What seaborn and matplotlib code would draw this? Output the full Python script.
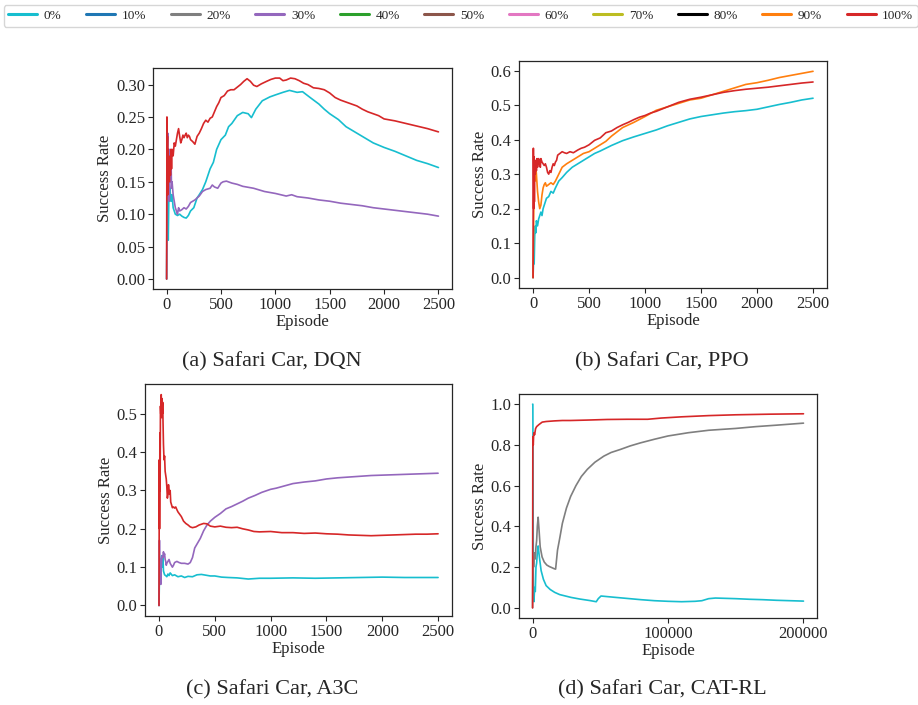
import pandas as pd
import matplotlib.pyplot as plt
import seaborn as sns
from matplotlib.lines import Line2D
from matplotlib.ticker import FixedLocator, MultipleLocator, FormatStrFormatter, ScalarFormatter

# Legend levels and colours
levels = ['0%', '10%', '20%', '30%', '40%', '50%', '60%', '70%', '80%', '90%', '100%']
level_colors = ['#17becf', '#1f77b4', '#7f7f7f', '#9467bd', '#2ca02c', '#8c564b',
                '#e377c2', '#bcbd22', 'black', '#ff7f0e', '#d62728']

# (a) DQN
dqn_0_ep = [0, 5, 10, 15, 20, 25, 30, 40, 50, 60, 70, 80, 100, 120, 140, 160, 180, 200, 220, 250,
            280, 300, 330, 360, 400, 430, 460, 500, 540, 570, 600, 650, 700, 750, 780, 820, 880, 950, 1000, 1070,
            1130, 1200, 1250, 1320, 1400, 1450, 1500, 1580, 1650, 1720, 1800, 1900, 2000, 2100, 2200, 2300, 2400, 2500]
dqn_0_sr = [0.0, 0.14, 0.11, 0.06, 0.12, 0.13, 0.14, 0.12, 0.13, 0.11, 0.105, 0.10, 0.098, 0.10, 0.097, 0.095, 0.094, 0.098, 0.105, 0.11,
            0.125, 0.13, 0.138, 0.15, 0.17, 0.18, 0.20, 0.215, 0.222, 0.235, 0.24, 0.252, 0.257, 0.255, 0.249, 0.262, 0.275, 0.281, 0.284, 0.288,
            0.291, 0.288, 0.289, 0.28, 0.27, 0.262, 0.255, 0.246, 0.235, 0.228, 0.22, 0.21, 0.203, 0.197, 0.19, 0.183, 0.178, 0.172]
dqn_30_ep = [0, 5, 10, 15, 20, 25, 30, 35, 40, 45, 50, 60, 70, 80, 90, 100, 110, 120, 140, 160,
             180, 200, 220, 240, 260, 280, 300, 330, 360, 400, 420, 440, 470, 500, 520, 550, 600, 650, 700, 800,
             900, 1000, 1100, 1150, 1200, 1300, 1400, 1500, 1600, 1700, 1800, 1900, 2000, 2100, 2200, 2300, 2400, 2500]
dqn_30_sr = [0.0, 0.2, 0.225, 0.13, 0.17, 0.12, 0.2, 0.15, 0.19, 0.14, 0.15, 0.13, 0.12, 0.11, 0.105, 0.1, 0.11, 0.105, 0.107, 0.11,
             0.108, 0.112, 0.118, 0.12, 0.122, 0.125, 0.128, 0.135, 0.138, 0.14, 0.145, 0.142, 0.14, 0.148, 0.15, 0.151, 0.148, 0.146, 0.143, 0.14,
             0.135, 0.132, 0.128, 0.13, 0.127, 0.125, 0.122, 0.12, 0.117, 0.115, 0.113, 0.11, 0.108, 0.106, 0.104, 0.102, 0.1, 0.097]
dqn_100_ep = [0, 3, 5, 8, 10, 13, 16, 20, 25, 30, 35, 40, 45, 50, 60, 70, 80, 90, 100, 110,
              120, 130, 140, 150, 160, 170, 180, 190, 200, 210, 220, 240, 260, 280, 300, 320, 340, 360, 380, 400,
              420, 440, 460, 480, 500, 530, 560, 590, 620, 650, 680, 710, 740, 770, 800, 830, 870, 920, 960, 1000,
              1040, 1070, 1100, 1140, 1180, 1220, 1260, 1300, 1350, 1400, 1450, 1500, 1550, 1600, 1650, 1700, 1750, 1800, 1850, 1900,
              1950, 2000, 2100, 2200, 2300, 2400, 2500]
dqn_100_sr = [0.0, 0.25, 0.15, 0.22, 0.13, 0.2, 0.16, 0.19, 0.15, 0.18, 0.16, 0.2, 0.17, 0.2, 0.19, 0.21, 0.205, 0.215, 0.225, 0.232,
              0.22, 0.21, 0.215, 0.222, 0.218, 0.222, 0.225, 0.218, 0.222, 0.22, 0.215, 0.212, 0.208, 0.22, 0.225, 0.232, 0.24, 0.245, 0.242, 0.248,
              0.25, 0.258, 0.266, 0.272, 0.28, 0.283, 0.29, 0.292, 0.292, 0.296, 0.3, 0.305, 0.309, 0.305, 0.299, 0.297, 0.301, 0.305, 0.308, 0.31,
              0.31, 0.306, 0.307, 0.31, 0.309, 0.306, 0.302, 0.3, 0.295, 0.294, 0.292, 0.287, 0.28, 0.276, 0.273, 0.27, 0.267, 0.262, 0.258, 0.255,
              0.252, 0.247, 0.244, 0.24, 0.236, 0.232, 0.227]

# (b) PPO
ppo_0_ep = [0, 5, 10, 15, 20, 25, 30, 40, 50, 60, 70, 80, 90, 100, 120, 140, 160, 180, 200, 230,
            260, 300, 350, 400, 450, 500, 550, 600, 700, 800, 900, 1000, 1100, 1200, 1300, 1400, 1500, 1600, 1700, 1800,
            1900, 2000, 2100, 2200, 2300, 2400, 2500]
ppo_0_sr = [0.0, 0.05, 0.04, 0.12, 0.15, 0.13, 0.165, 0.15, 0.17, 0.18, 0.19, 0.18, 0.2, 0.21, 0.23, 0.235, 0.25, 0.245, 0.26, 0.28,
            0.29, 0.305, 0.32, 0.33, 0.34, 0.35, 0.36, 0.367, 0.383, 0.397, 0.408, 0.418, 0.428, 0.44, 0.45, 0.46, 0.467, 0.472, 0.477, 0.481,
            0.484, 0.488, 0.495, 0.502, 0.508, 0.515, 0.52]
ppo_90_ep = [0, 5, 10, 15, 20, 25, 30, 40, 50, 60, 70, 80, 90, 100, 110, 120, 140, 160, 180, 200,
             230, 260, 300, 350, 400, 450, 500, 550, 600, 650, 700, 800, 900, 1000, 1100, 1200, 1300, 1400, 1500, 1600,
             1700, 1800, 1900, 2000, 2100, 2200, 2300, 2400, 2500]
ppo_90_sr = [0.0, 0.15, 0.3, 0.34, 0.28, 0.32, 0.3, 0.25, 0.22, 0.2, 0.21, 0.24, 0.26, 0.27, 0.275, 0.265, 0.27, 0.275, 0.27, 0.28,
             0.3, 0.32, 0.33, 0.34, 0.35, 0.36, 0.365, 0.375, 0.385, 0.395, 0.41, 0.435, 0.45, 0.467, 0.485, 0.495, 0.505, 0.515, 0.52, 0.53,
             0.54, 0.55, 0.56, 0.565, 0.572, 0.58, 0.586, 0.592, 0.598]
ppo_100_ep = [0, 3, 6, 9, 12, 15, 20, 25, 30, 35, 40, 45, 50, 55, 60, 65, 70, 80, 90, 100,
              110, 120, 130, 140, 150, 160, 170, 180, 190, 200, 210, 220, 240, 260, 280, 300, 330, 360, 400, 430,
              460, 500, 550, 600, 650, 700, 750, 800, 850, 900, 950, 1000, 1050, 1100, 1200, 1300, 1400, 1500, 1600, 1700,
              1800, 1900, 2000, 2100, 2200, 2300, 2400, 2500]
ppo_100_sr = [0.0, 0.375, 0.2, 0.35, 0.22, 0.33, 0.3, 0.34, 0.31, 0.345, 0.32, 0.33, 0.345, 0.33, 0.34, 0.32, 0.345, 0.335, 0.33, 0.325,
              0.33, 0.32, 0.305, 0.3, 0.31, 0.305, 0.32, 0.33, 0.325, 0.335, 0.34, 0.355, 0.36, 0.365, 0.362, 0.36, 0.365, 0.362, 0.37, 0.375,
              0.378, 0.385, 0.398, 0.405, 0.42, 0.425, 0.435, 0.443, 0.45, 0.458, 0.465, 0.47, 0.477, 0.482, 0.495, 0.508, 0.517, 0.523, 0.53, 0.537,
              0.542, 0.546, 0.549, 0.552, 0.556, 0.56, 0.564, 0.567]

# (c) A3C
a3c_0_ep = [0, 5, 10, 15, 20, 25, 30, 35, 40, 45, 50, 60, 70, 80, 90, 100, 120, 140, 170, 200,
            230, 260, 300, 340, 380, 420, 460, 500, 560, 620, 700, 800, 900, 1000, 1200, 1400, 1600, 1800, 2000, 2200,
            2400, 2500]
a3c_0_sr = [0.0, 0.09, 0.12, 0.1, 0.125, 0.13, 0.1, 0.13, 0.09, 0.085, 0.08, 0.078, 0.075, 0.082, 0.078, 0.085, 0.078, 0.08, 0.075, 0.077,
            0.073, 0.076, 0.075, 0.08, 0.081, 0.079, 0.077, 0.077, 0.074, 0.073, 0.072, 0.069, 0.071, 0.071, 0.072, 0.071, 0.072, 0.073, 0.074, 0.073,
            0.073, 0.073]
a3c_30_ep = [0, 4, 8, 12, 16, 20, 25, 30, 35, 40, 45, 50, 55, 60, 65, 70, 80, 90, 100, 110,
             120, 130, 140, 160, 180, 200, 230, 260, 280, 300, 320, 340, 370, 400, 430, 460, 500, 550, 600, 650,
             700, 750, 800, 860, 920, 1000, 1050, 1100, 1200, 1300, 1400, 1500, 1600, 1700, 1800, 1900, 2000, 2100, 2200, 2300,
             2400, 2500]
a3c_30_sr = [0.0, 0.17, 0.06, 0.12, 0.055, 0.1, 0.12, 0.13, 0.125, 0.14, 0.13, 0.135, 0.12, 0.115, 0.105, 0.11, 0.115, 0.12, 0.11, 0.105,
             0.1, 0.105, 0.112, 0.115, 0.112, 0.11, 0.11, 0.108, 0.112, 0.125, 0.15, 0.16, 0.175, 0.195, 0.21, 0.22, 0.23, 0.24, 0.252, 0.258,
             0.265, 0.272, 0.28, 0.287, 0.295, 0.303, 0.306, 0.31, 0.318, 0.322, 0.325, 0.33, 0.333, 0.335, 0.337, 0.339, 0.34, 0.341, 0.342, 0.343,
             0.344, 0.345]
a3c_100_ep = [0, 3, 5, 8, 10, 13, 16, 20, 23, 26, 30, 33, 36, 40, 45, 50, 55, 60, 65, 70,
              75, 80, 85, 90, 95, 100, 105, 110, 120, 130, 140, 150, 160, 170, 180, 200, 220, 240, 260, 280,
              300, 330, 360, 400, 430, 460, 500, 550, 600, 650, 700, 750, 800, 850, 900, 1000, 1100, 1200, 1300, 1400,
              1500, 1600, 1700, 1800, 1900, 2000, 2100, 2200, 2300, 2400, 2500]
a3c_100_sr = [0.0, 0.38, 0.2, 0.45, 0.3, 0.52, 0.5, 0.55, 0.49, 0.54, 0.5, 0.53, 0.48, 0.42, 0.38, 0.39, 0.35, 0.34, 0.33, 0.31,
              0.28, 0.29, 0.315, 0.3, 0.29, 0.3, 0.27, 0.265, 0.255, 0.257, 0.254, 0.257, 0.25, 0.244, 0.24, 0.232, 0.22, 0.214, 0.21, 0.205,
              0.203, 0.205, 0.21, 0.214, 0.213, 0.207, 0.205, 0.207, 0.204, 0.203, 0.204, 0.2, 0.197, 0.193, 0.192, 0.193, 0.19, 0.19, 0.188, 0.189,
              0.187, 0.186, 0.184, 0.183, 0.182, 0.183, 0.184, 0.185, 0.186, 0.186, 0.187]

# (d) CAT-RL
cat_0_ep = [0, 200, 600, 1000, 1500, 2000, 2500, 3000, 3500, 4100, 5000, 6300, 8000, 10000, 13000, 16300, 20000, 28500, 35000, 42000,
            47000, 48500, 50500, 60000, 70000, 80000, 90000, 100000, 110000, 115000, 120000, 125000, 130000, 135000, 140000, 150000, 160000, 170000, 180000, 190000,
            200000]
cat_0_sr = [1.0, 1.0, 0.05, 0.03, 0.1, 0.08, 0.2, 0.22, 0.27, 0.304, 0.25, 0.183, 0.14, 0.109, 0.09, 0.076, 0.065, 0.051, 0.043, 0.036,
            0.03, 0.045, 0.058, 0.052, 0.046, 0.04, 0.035, 0.032, 0.03, 0.031, 0.032, 0.035, 0.045, 0.048, 0.047, 0.045, 0.042, 0.04, 0.037, 0.035,
            0.033]
cat_20_ep = [0, 300, 700, 1000, 1500, 2000, 2500, 3000, 3500, 4100, 4800, 5600, 7000, 8600, 10500, 12300, 14000, 16000, 17000, 18400,
             20000, 22000, 25000, 28100, 32000, 36000, 40400, 46000, 52600, 58000, 64900, 72000, 79600, 90000, 100000, 115000, 130000, 150000, 165000, 180000,
             200000]
cat_20_sr = [0.0, 0.25, 0.2, 0.22, 0.27, 0.24, 0.3, 0.33, 0.4, 0.445, 0.38, 0.3, 0.25, 0.225, 0.21, 0.203, 0.198, 0.192, 0.19, 0.283,
             0.34, 0.415, 0.49, 0.547, 0.6, 0.645, 0.68, 0.715, 0.745, 0.763, 0.778, 0.795, 0.81, 0.828, 0.844, 0.86, 0.872, 0.881, 0.89, 0.897,
             0.907]
cat_100_ep = [0, 200, 500, 800, 1000, 1500, 2200, 3000, 4700, 7100, 10000, 16000, 22000, 28000, 40000, 55000, 70000, 85000, 95000, 110000,
              130000, 150000, 175000, 200000]
cat_100_sr = [0.0, 0.84, 0.8, 0.85, 0.86, 0.85, 0.88, 0.89, 0.9, 0.912, 0.915, 0.918, 0.92, 0.92, 0.922, 0.925, 0.926, 0.926, 0.932, 0.938,
              0.944, 0.948, 0.951, 0.953]

sns.set_style("ticks")
plt.rcParams['font.family'] = ['Liberation Serif', 'DejaVu Serif']

fig = plt.figure(figsize=(9.18, 7.05), dpi=100)

# axes rect, caption, caption centre (px), y tick step, y format, series
panels = [
    ([0.1667, 0.590, 0.3257, 0.3135], '(a) Safari Car, DQN', (272, 362), 0.05, '%.2f',
     [('0%', dqn_0_ep, dqn_0_sr), ('30%', dqn_30_ep, dqn_30_sr), ('100%', dqn_100_ep, dqn_100_sr)]),
    ([0.5654, 0.5915, 0.3355, 0.322], '(b) Safari Car, PPO', (662, 362), 0.1, '%.1f',
     [('0%', ppo_0_ep, ppo_0_sr), ('90%', ppo_90_ep, ppo_90_sr), ('100%', ppo_100_ep, ppo_100_sr)]),
    ([0.158, 0.1262, 0.3344, 0.329], '(c) Safari Car, A3C', (272, 690), 0.1, '%.1f',
     [('0%', a3c_0_ep, a3c_0_sr), ('30%', a3c_30_ep, a3c_30_sr), ('100%', a3c_100_ep, a3c_100_sr)]),
    ([0.5654, 0.1234, 0.3246, 0.3177], '(d) Safari Car, CAT-RL', (662, 690), 0.2, '%.1f',
     [('0%', cat_0_ep, cat_0_sr), ('20%', cat_20_ep, cat_20_sr), ('100%', cat_100_ep, cat_100_sr)]),
]

color_of = dict(zip(levels, level_colors))

axes = []
for pos, caption, (cx, cy), ystep, yfmt, series in panels:
    ax = fig.add_axes(pos)
    for lvl, ep, sr in series:
        df = pd.DataFrame({'Episode': ep, 'Success Rate': sr})
        sns.lineplot(data=df, x='Episode', y='Success Rate', color=color_of[lvl],
                     lw=1.2, estimator=None, ax=ax)
    ax.set_xlabel('Episode', fontsize=12, labelpad=1)
    ax.set_ylabel('Success Rate', fontsize=12, labelpad=2)
    ax.yaxis.set_major_locator(MultipleLocator(ystep))
    ax.yaxis.set_major_formatter(FormatStrFormatter(yfmt))
    ax.xaxis.set_major_locator(MultipleLocator(500))
    ax.tick_params(labelsize=12, length=3.5, width=0.8, pad=2)
    for s in ax.spines.values():
        s.set_linewidth(0.9)
    fig.text(cx / 918, 1 - cy / 705, caption, ha='center', va='center', fontsize=16)
    axes.append(ax)

# CAT-RL x ticks in plain numbers
ax_d = axes[3]
ax_d.xaxis.set_major_locator(FixedLocator([0, 100000, 200000]))
fmt = ScalarFormatter()
fmt.set_scientific(False)
ax_d.xaxis.set_major_formatter(fmt)

handles = [Line2D([], [], color=c, lw=2.2) for c in level_colors]
fig.legend(handles, levels, loc='center', ncol=11, mode='expand',
           bbox_to_anchor=(0.004, 0.9617, 0.996, 0.0314), borderaxespad=0,
           fontsize=9.5, handlelength=2.2, handletextpad=0.5, columnspacing=1.0,
           borderpad=0.35, frameon=True)

fig.savefig('out.png', dpi=100)
